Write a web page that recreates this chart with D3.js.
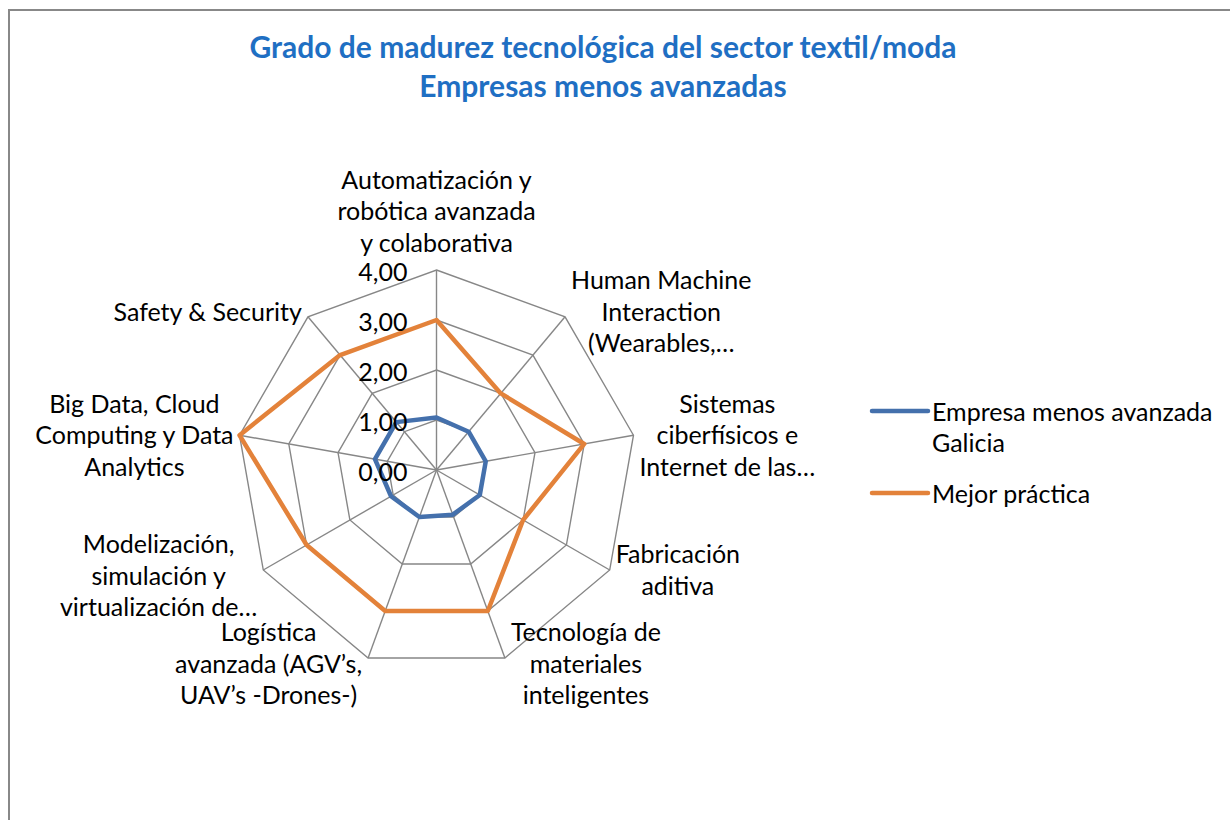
<!DOCTYPE html>
<html>
<head>
<meta charset="utf-8">
<script src="https://cdn.jsdelivr.net/npm/d3@7"></script>
<style>
  html, body { margin: 0; padding: 0; background: #ffffff; }
  svg { display: block; }
  text { font-family: Lato, "Open Sans", sans-serif; }
</style>
</head>
<body>
<svg id="chart" width="1230" height="820"></svg>
<script>
// ---- data ----
const categories = [
  ["Automatización y", "robótica avanzada", "y colaborativa"],
  ["Human Machine", "Interaction", "(Wearables,…"],
  ["Sistemas", "ciberfísicos e", "Internet de las…"],
  ["Fabricación", "aditiva"],
  ["Tecnología de", "materiales", "inteligentes"],
  ["Logística", "avanzada (AGV’s,", "UAV’s -Drones-)"],
  ["Modelización,", "simulación y", "virtualización de…"],
  ["Big Data, Cloud", "Computing y Data", "Analytics"],
  ["Safety & Security"]
];
const seriesNames = [["Empresa menos avanzada", "Galicia"], ["Mejor práctica"]];
const empresaValues = [1.05, 1.0, 1.0, 1.0, 0.95, 1.0, 1.05, 1.25, 1.25];
const mejorValues = [3, 2, 3, 2, 3, 3, 3, 4, 3];
const tickValues = [0, 1, 2, 3, 4];
const tickLabels = ["0,00", "1,00", "2,00", "3,00", "4,00"];
const titleLines = ["Grado de madurez tecnológica del sector textil/moda", "Empresas menos avanzadas"];

// ---- layout ----
const W = 1230, H = 820;
const cx = 436.5, cy = 470, R = 200;
const FS = 25, LH = 31.5;
const colors = ["#4470AC", "#E3823A"];
const gridColor = "#878787";

const svg = d3.select("#chart");

// chart frame
svg.append("rect")
  .attr("x", 9).attr("y", 10).attr("width", W + 20).attr("height", H + 20)
  .attr("fill", "#fff").attr("stroke", "#888").attr("stroke-width", 2);

// title
svg.append("g").selectAll("text").data(titleLines).join("text")
  .attr("x", 603).attr("y", (d, i) => 47 + i * 39)
  .attr("dy", "0.35em")
  .attr("text-anchor", "middle")
  .attr("font-weight", "bold")
  .attr("font-size", 30)
  .attr("fill", "#1F6FC3")
  .text(d => d);

const n = categories.length;
const angle = d3.scaleLinear().domain([0, n]).range([0, 2 * Math.PI]);
const r = d3.scaleLinear().domain([0, 4]).range([0, R]);

const g = svg.append("g").attr("transform", `translate(${cx},${cy})`);
const pt = (i, v) => [Math.sin(angle(i)) * r(v), -Math.cos(angle(i)) * r(v)];

// grid rings
const ring = d3.lineRadial().angle((d, i) => angle(i)).radius(d => r(d)).curve(d3.curveLinearClosed);
g.append("g").selectAll("path").data(tickValues.slice(1)).join("path")
  .attr("d", t => ring(d3.range(n).map(() => t)))
  .attr("fill", "none").attr("stroke", gridColor).attr("stroke-width", 1.4);

// spokes
g.append("g").selectAll("line").data(d3.range(n)).join("line")
  .attr("x1", 0).attr("y1", 0)
  .attr("x2", i => pt(i, 4)[0]).attr("y2", i => pt(i, 4)[1])
  .attr("stroke", gridColor).attr("stroke-width", 1.4);

// series
const seriesData = [empresaValues, mejorValues];
g.append("g").selectAll("path").data(seriesData).join("path")
  .attr("d", vals => ring(vals))
  .attr("fill", "none")
  .attr("stroke", (d, i) => colors[i])
  .attr("stroke-width", 4.5)
  .attr("stroke-linejoin", "round");

// tick labels
g.append("g").selectAll("text").data(tickValues).join("text")
  .attr("x", -29).attr("y", t => -r(t) + 2)
  .attr("dy", "0.35em")
  .attr("text-anchor", "end")
  .attr("font-size", FS).attr("fill", "#000")
  .text((t, i) => tickLabels[i]);

// category labels
categories.forEach((lines, i) => {
  const [vx, vy] = pt(i, 4);
  const texts = g.append("g").selectAll("text").data(lines).join("text")
    .attr("font-size", FS).attr("fill", "#000")
    .attr("text-anchor", "middle")
    .attr("dy", "0.35em")
    .text(d => d);
  let bw = 0;
  texts.each(function() { bw = Math.max(bw, this.getComputedTextLength()); });
  const bh = (lines.length - 1) * LH;
  const a = angle(i);
  const s = Math.sin(a), c = Math.cos(a);
  const gap = 6;
  let bx, top;
  if (Math.abs(s) < 0.2) {
    bx = vx; top = vy - 27 - bh;
  } else {
    bx = s > 0 ? vx + gap + bw / 2 : vx - gap - bw / 2;
    top = vy - bh / 2 + (c < -0.5 ? 6 : 0) - (c > 0.5 ? 5 : 0);
  }
  texts.attr("x", bx).attr("y", (d, j) => top + j * LH);
});

// legend
const leg = svg.append("g");
const legY = [411, 493];
seriesNames.forEach((lines, i) => {
  leg.append("line")
    .attr("x1", 872).attr("x2", 928).attr("y1", legY[i]).attr("y2", legY[i])
    .attr("stroke", colors[i]).attr("stroke-width", 4.5).attr("stroke-linecap", "round");
  leg.append("g").selectAll("text").data(lines).join("text")
    .attr("x", 932).attr("y", (d, j) => legY[i] + 1 + j * 31)
    .attr("dy", "0.35em")
    .attr("font-size", FS).attr("fill", "#000")
    .text(d => d);
});
</script>
</body>
</html>
